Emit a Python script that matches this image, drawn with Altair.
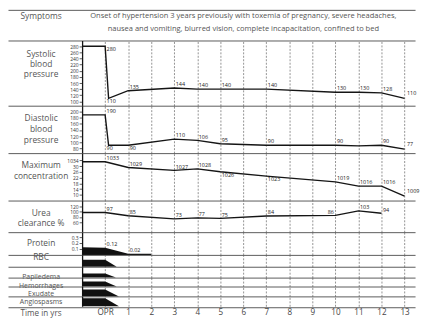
import altair as alt
import pandas as pd

FONT = "Open Sans"
INK = "#151515"
TXT = "#555555"
RULE = "#5a5a5a"
GRID = "#777777"

W = 412
X_DOMAIN = [-4.2175, 13.457]
AXIS_OFFSET = -75
YEARS = list(range(0, 14))
HEADER_CENTER = 6.0

# ---------------- data ----------------
header_title = "Symptoms"
header_lines = [
    "Onset of hypertension 3 years previously with toxemia of pregnancy, severe headaches,",
    "nausea and vomiting, blurred vision, complete incapacitation, confined to bed",
]

sys_x = [-1, 0, 0.15, 1, 3, 4, 5, 7, 10, 11, 12, 13]
sys_v = [280, 280, 110, 135, 144, 140, 140, 140, 130, 130, 128, 110]
sys_ticks = [100, 120, 140, 160, 180, 200, 220, 240, 260, 280]
sys_above_x = [1, 3, 4, 5, 7, 10, 11, 12]
sys_above_v = [135, 144, 140, 140, 140, 130, 130, 128]
sys_below_x = [0, 0]
sys_below_v = [280, 110]
sys_end_x = [13]
sys_end_v = [110]

dia_x = [-1, 0, 0.15, 1, 3, 4, 5, 7, 10, 11, 12, 13]
dia_v = [190, 190, 90, 90, 110, 106, 95, 90, 90, 88, 90, 77]
dia_ticks = [80, 100, 120, 140, 160, 180, 200]
dia_above_x = [0, 3, 4, 5, 7, 10, 12]
dia_above_v = [190, 110, 106, 95, 90, 90, 90]
dia_below_x = [0, 1]
dia_below_v = [90, 90]
dia_end_x = [13]
dia_end_v = [77]

mc_x = [-1, 0, 1, 3, 4, 5, 7, 10, 11, 12, 13]
mc_v = [1033, 1033, 1029, 1027, 1028, 1026, 1023, 1019, 1016, 1016, 1009]
mc_ticks = [1010, 1014, 1018, 1022, 1026, 1030, 1034]
mc_above_x = [0, 1, 3, 4, 10, 11, 12]
mc_above_v = [1033, 1029, 1027, 1028, 1019, 1016, 1016]
mc_below_x = [5, 7]
mc_below_v = [1026, 1023]
mc_end_x = [13]
mc_end_v = [1009]

ur_x = [-1, 0, 1, 3, 4, 5, 7, 10, 11, 12]
ur_v = [97, 97, 85, 73, 77, 75, 84, 86, 103, 94]
ur_ticks = [60, 80, 100, 120]
ur_above_x = [0, 1, 3, 4, 5, 7, 11, 12]
ur_above_v = [97, 85, 73, 77, 75, 84, 103, 94]
ur_left_x = [10]
ur_left_v = [86]

pr_x = [-1, 0, 1, 2]
pr_v = [0.13, 0.12, 0.02, 0.02]
pr_ticks = [0.1, 0.2, 0.3]
pr_above_x = [0, 1]
pr_above_v = [0.12, 0.02]
pr_above_t = ["0.12", "0.02"]

rbc_x = [-1, 0, 0.5]
rbc_v = [0.6, 0.6, 0]
pap_x = [-1, 0, 0.47]
pap_v = [0.38, 0.38, 0]
hem_x = [-1, 0, 0.5]
hem_v = [0.55, 0.55, 0]
exu_x = [-1, 0, 0.6]
exu_v = [0.7, 0.7, 0]
ang_x = [-1, 0, 0.6]
ang_v = [0.8, 0.8, 0]

# ---------------- helpers ----------------
XS = alt.Scale(domain=X_DOMAIN, nice=False, zero=False)


def x_sep(grid=True):
    return alt.Axis(orient="top", values=YEARS, domain=True, domainColor=RULE,
                    domainWidth=1, labels=False, ticks=False, grid=grid,
                    gridColor=GRID, gridDash=[2, 1.5], gridWidth=0.8, title=None)


def y_axis(title, title_y, ticks, lh=10.5, label_expr=None, domain=True, fs=8.5):
    kw = dict(offset=AXIS_OFFSET, domain=domain, domainColor=INK, domainWidth=1.3,
              grid=False, title=title, titleAngle=0, titleAlign="center",
              titleBaseline="middle", titleX=-42, titleY=title_y, titleFont=FONT,
              titleFontSize=fs, titleFontWeight="normal", titleColor=TXT,
              titleLineHeight=lh)
    if ticks:
        kw.update(values=ticks, ticks=True, tickSize=3, tickColor="#333", tickWidth=0.8,
                  labels=True, labelFontSize=5, labelFont=FONT, labelColor="#333",
                  labelPadding=1, labelOverlap=False, labelFlush=False)
    else:
        kw.update(ticks=False, labels=False)
    if label_expr:
        kw["labelExpr"] = label_expr
    return alt.Axis(**kw)


PLACE = {
    "above": dict(align="left", baseline="bottom", dx=1.5, dy=-0.8),
    "below": dict(align="left", baseline="top", dx=1.5, dy=1.2),
    "end": dict(align="left", baseline="bottom", dx=2.5, dy=-2),
    "left": dict(align="right", baseline="bottom", dx=-1.5, dy=-0.8),
}


def labels(xs, vs, ys, place, texts=None):
    if texts is None:
        texts = [str(v) for v in vs]
    df = pd.DataFrame({"x": xs, "v": vs, "t": texts})
    return alt.Chart(df).mark_text(font=FONT, fontSize=5.5, color="#222", **PLACE[place]).encode(
        x=alt.X("x:Q", scale=XS, axis=None),
        y=alt.Y("v:Q", scale=ys, axis=None),
        text="t:N",
    )


def finish(layers, height):
    return alt.layer(*layers).resolve_scale(x="independent", y="independent").properties(
        width=W, height=height)


def line_panel(xs_, vs_, height, ydom, title, title_y, ticks, lab_layers, lh=10.5, label_expr=None):
    ys = alt.Scale(domain=ydom, nice=False, zero=False)
    df = pd.DataFrame({"x": xs_, "v": vs_})
    base = alt.Chart(df).mark_line(color=INK, strokeWidth=1.4).encode(
        x=alt.X("x:Q", scale=XS, axis=x_sep()),
        y=alt.Y("v:Q", scale=ys, axis=y_axis(title, title_y, ticks, lh, label_expr)),
    )
    layers = [base] + [labels(a, b, ys, p, *rest) for (a, b, p, *rest) in lab_layers]
    return finish(layers, height)


def area_panel(xs_, vs_, height, ydom, title, title_y, ticks=(), lab_layers=(), lh=10.5, fs=8.5):
    ys = alt.Scale(domain=ydom, nice=False, zero=False)
    df = pd.DataFrame({"x": xs_, "v": vs_})
    base = alt.Chart(df).mark_area(color="#111111").encode(
        x=alt.X("x:Q", scale=XS, axis=x_sep()),
        y=alt.Y("v:Q", scale=ys, axis=y_axis(title, title_y, list(ticks), lh, fs=fs)),
    )
    layers = [base] + [labels(a, b, ys, p, *rest) for (a, b, p, *rest) in lab_layers]
    if len(layers) == 1:
        return base.properties(width=W, height=height)
    return finish(layers, height)


# ---------------- panels ----------------
hdr_df = pd.DataFrame({"row": [0, 1], "text": header_lines, "xc": [HEADER_CENTER] * 2})
header = alt.Chart(hdr_df).mark_text(font=FONT, fontSize=7.6, color=TXT).encode(
    x=alt.X("xc:Q", scale=XS, axis=x_sep(grid=False)),
    y=alt.Y("row:Q", scale=alt.Scale(domain=[-6 / 13, 25 / 13], reverse=True, nice=False, zero=False),
            axis=y_axis(header_title, 6, [], domain=False)),
    text="text:N",
).properties(width=W, height=31)

systolic = line_panel(sys_x, sys_v, 66, [86, 299], ["Systolic", "blood", "pressure"], 13, sys_ticks,
                      [(sys_above_x, sys_above_v, "above"), (sys_below_x, sys_below_v, "below"),
                       (sys_end_x, sys_end_v, "end")], lh=10)

diastolic = line_panel(dia_x, dia_v, 48, [64, 220], ["Diastolic", "blood", "pressure"], 12, dia_ticks,
                       [(dia_above_x, dia_above_v, "above"), (dia_below_x, dia_below_v, "below"),
                        (dia_end_x, dia_end_v, "end")], lh=11)

maxconc = line_panel(mc_x, mc_v, 48, [1006, 1039], ["Maximum", "concentration"], 12, mc_ticks,
                     [(mc_above_x, mc_above_v, "above"), (mc_below_x, mc_below_v, "below"),
                      (mc_end_x, mc_end_v, "end")], lh=11,
                     label_expr="datum.value == 1034 ? '1034' : '' + (datum.value - 1000)")

urea = line_panel(ur_x, ur_v, 32, [23, 142], ["Urea", "clearance %"], 12, ur_ticks,
                  [(ur_above_x, ur_above_v, "above"), (ur_left_x, ur_left_v, "left")], lh=10)

protein = area_panel(pr_x, pr_v, 23, [0, 0.383], "Protein", 11, pr_ticks,
                     [(pr_above_x, pr_above_v, "above", pr_above_t)])
rbc = area_panel(rbc_x, rbc_v, 12, [0, 1], "RBC", 2)
pap = area_panel(pap_x, pap_v, 11, [0, 1], "Papiledema", 10, fs=7)
hem = area_panel(hem_x, hem_v, 9, [0, 1], "Hemorrhages", 8, fs=7)
exu = area_panel(exu_x, exu_v, 10, [0, 1], "Exudate", 7, fs=7)
ang = area_panel(ang_x, ang_v, 10, [0, 1], "Angiospasms", 5, fs=7)

axis_df = pd.DataFrame({"x": YEARS})
bottom = alt.Chart(axis_df).mark_point(opacity=0).encode(
    x=alt.X("x:Q", scale=XS, axis=alt.Axis(
        orient="bottom", values=YEARS, domain=True, domainColor=RULE, domainWidth=1,
        ticks=False, grid=False, labels=True,
        labelExpr="datum.value == 0 ? 'OPR' : datum.label",
        labelFont=FONT, labelFontSize=8.2, labelColor="#444", labelPadding=1.5,
        labelFlush=False, labelOverlap=False,
        title="Time in yrs", titleX=33, titleY=6.5, titleAlign="center", titleBaseline="middle",
        titleFont=FONT, titleFontSize=8.2, titleFontWeight="normal", titleColor=TXT)),
).properties(width=W, height=1)

chart = alt.vconcat(
    header, systolic, diastolic, maxconc, urea, protein, rbc, pap, hem, exu, ang, bottom,
    spacing=0, bounds="flush",
).properties(padding=0, background="white").configure_view(stroke=None)

chart.save("out.html", embed_options={"renderer": "svg", "actions": False})
